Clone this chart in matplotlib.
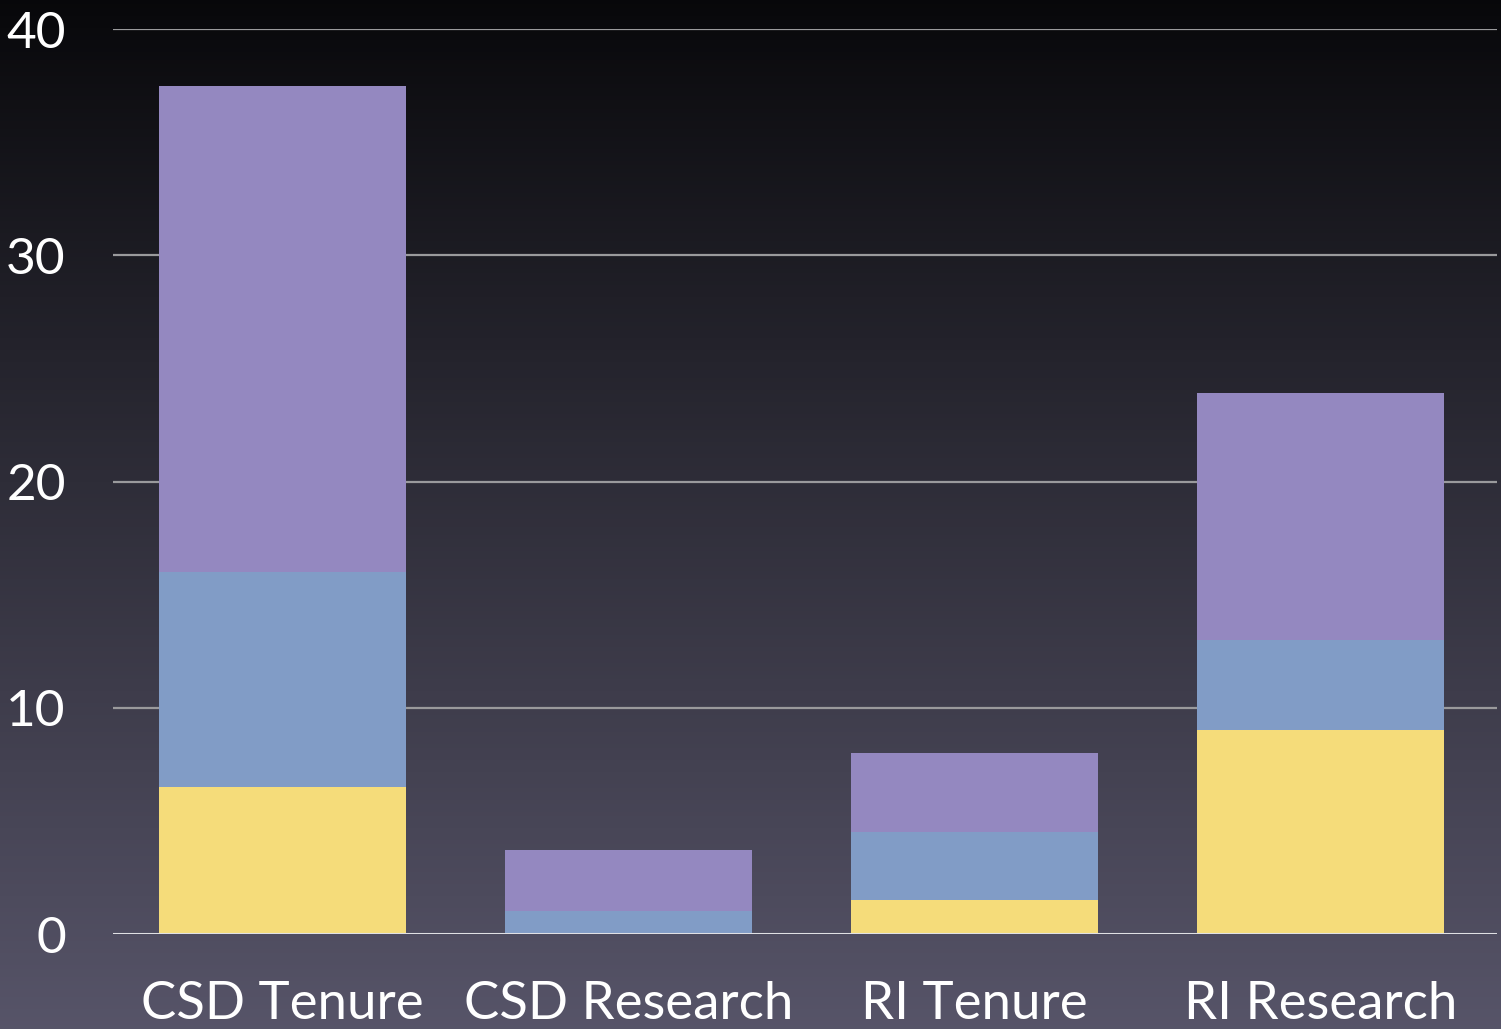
import numpy as np
import matplotlib
matplotlib.use("Agg")
import matplotlib.pyplot as plt

# dados
categorias = ["CSD Tenure", "CSD Research", "RI Tenure", "RI Research"]
amarelo = [6.5, 0.0, 1.5, 9.0]
azul = [9.5, 1.0, 3.0, 4.0]
roxo = [21.5, 2.7, 3.5, 10.9]
ticks_y = [0, 10, 20, 30, 40]

cor_amarelo = "#f5dc7a"
cor_azul = "#819cc6"
cor_roxo = "#9488c0"

plt.rcParams["font.family"] = ["Lato", "DejaVu Sans"]

fig = plt.figure(figsize=(15.01, 10.29), dpi=100)

# fundo em degradê (preto em cima, cinza arroxeado embaixo)
fundo = fig.add_axes([0, 0, 1, 1], zorder=-10)
grad = np.linspace(0, 1, 256).reshape(-1, 1)
topo = np.array([0.03, 0.03, 0.04])
base = np.array([0.34, 0.33, 0.41])
img = topo + (base - topo) * grad[..., None] ** 0.95
fundo.imshow(img, aspect="auto", extent=[0, 1, 0, 1], origin="upper")
fundo.axis("off")

ax = fig.add_axes([0.0753, 0.0923, 0.9220, 0.8795])
ax.patch.set_visible(False)

x = np.arange(len(categorias))
largura = 0.712
base_azul = np.array(amarelo)
base_roxo = base_azul + np.array(azul)
ax.bar(x, amarelo, largura, color=cor_amarelo, zorder=3)
ax.bar(x, azul, largura, bottom=base_azul, color=cor_azul, zorder=3)
ax.bar(x, roxo, largura, bottom=base_roxo, color=cor_roxo, zorder=3)

ax.set_xlim(-0.49, 3.51)
ax.set_ylim(0, 40)
ax.set_yticks(ticks_y)
ax.set_xticks(x)
ax.set_xticklabels(categorias)

for t in ticks_y[1:]:
    ax.axhline(t, color="#9a9a9c", lw=1.6, zorder=1)
ax.axhline(0, color="#e0e0e4", lw=2.2, zorder=4)

for s in ax.spines.values():
    s.set_visible(False)
ax.tick_params(axis="y", length=0, pad=34, labelsize=37, labelcolor="white")
ax.tick_params(axis="x", length=0, pad=34, labelsize=38, labelcolor="white")

fig.savefig("out.png", dpi=100)
